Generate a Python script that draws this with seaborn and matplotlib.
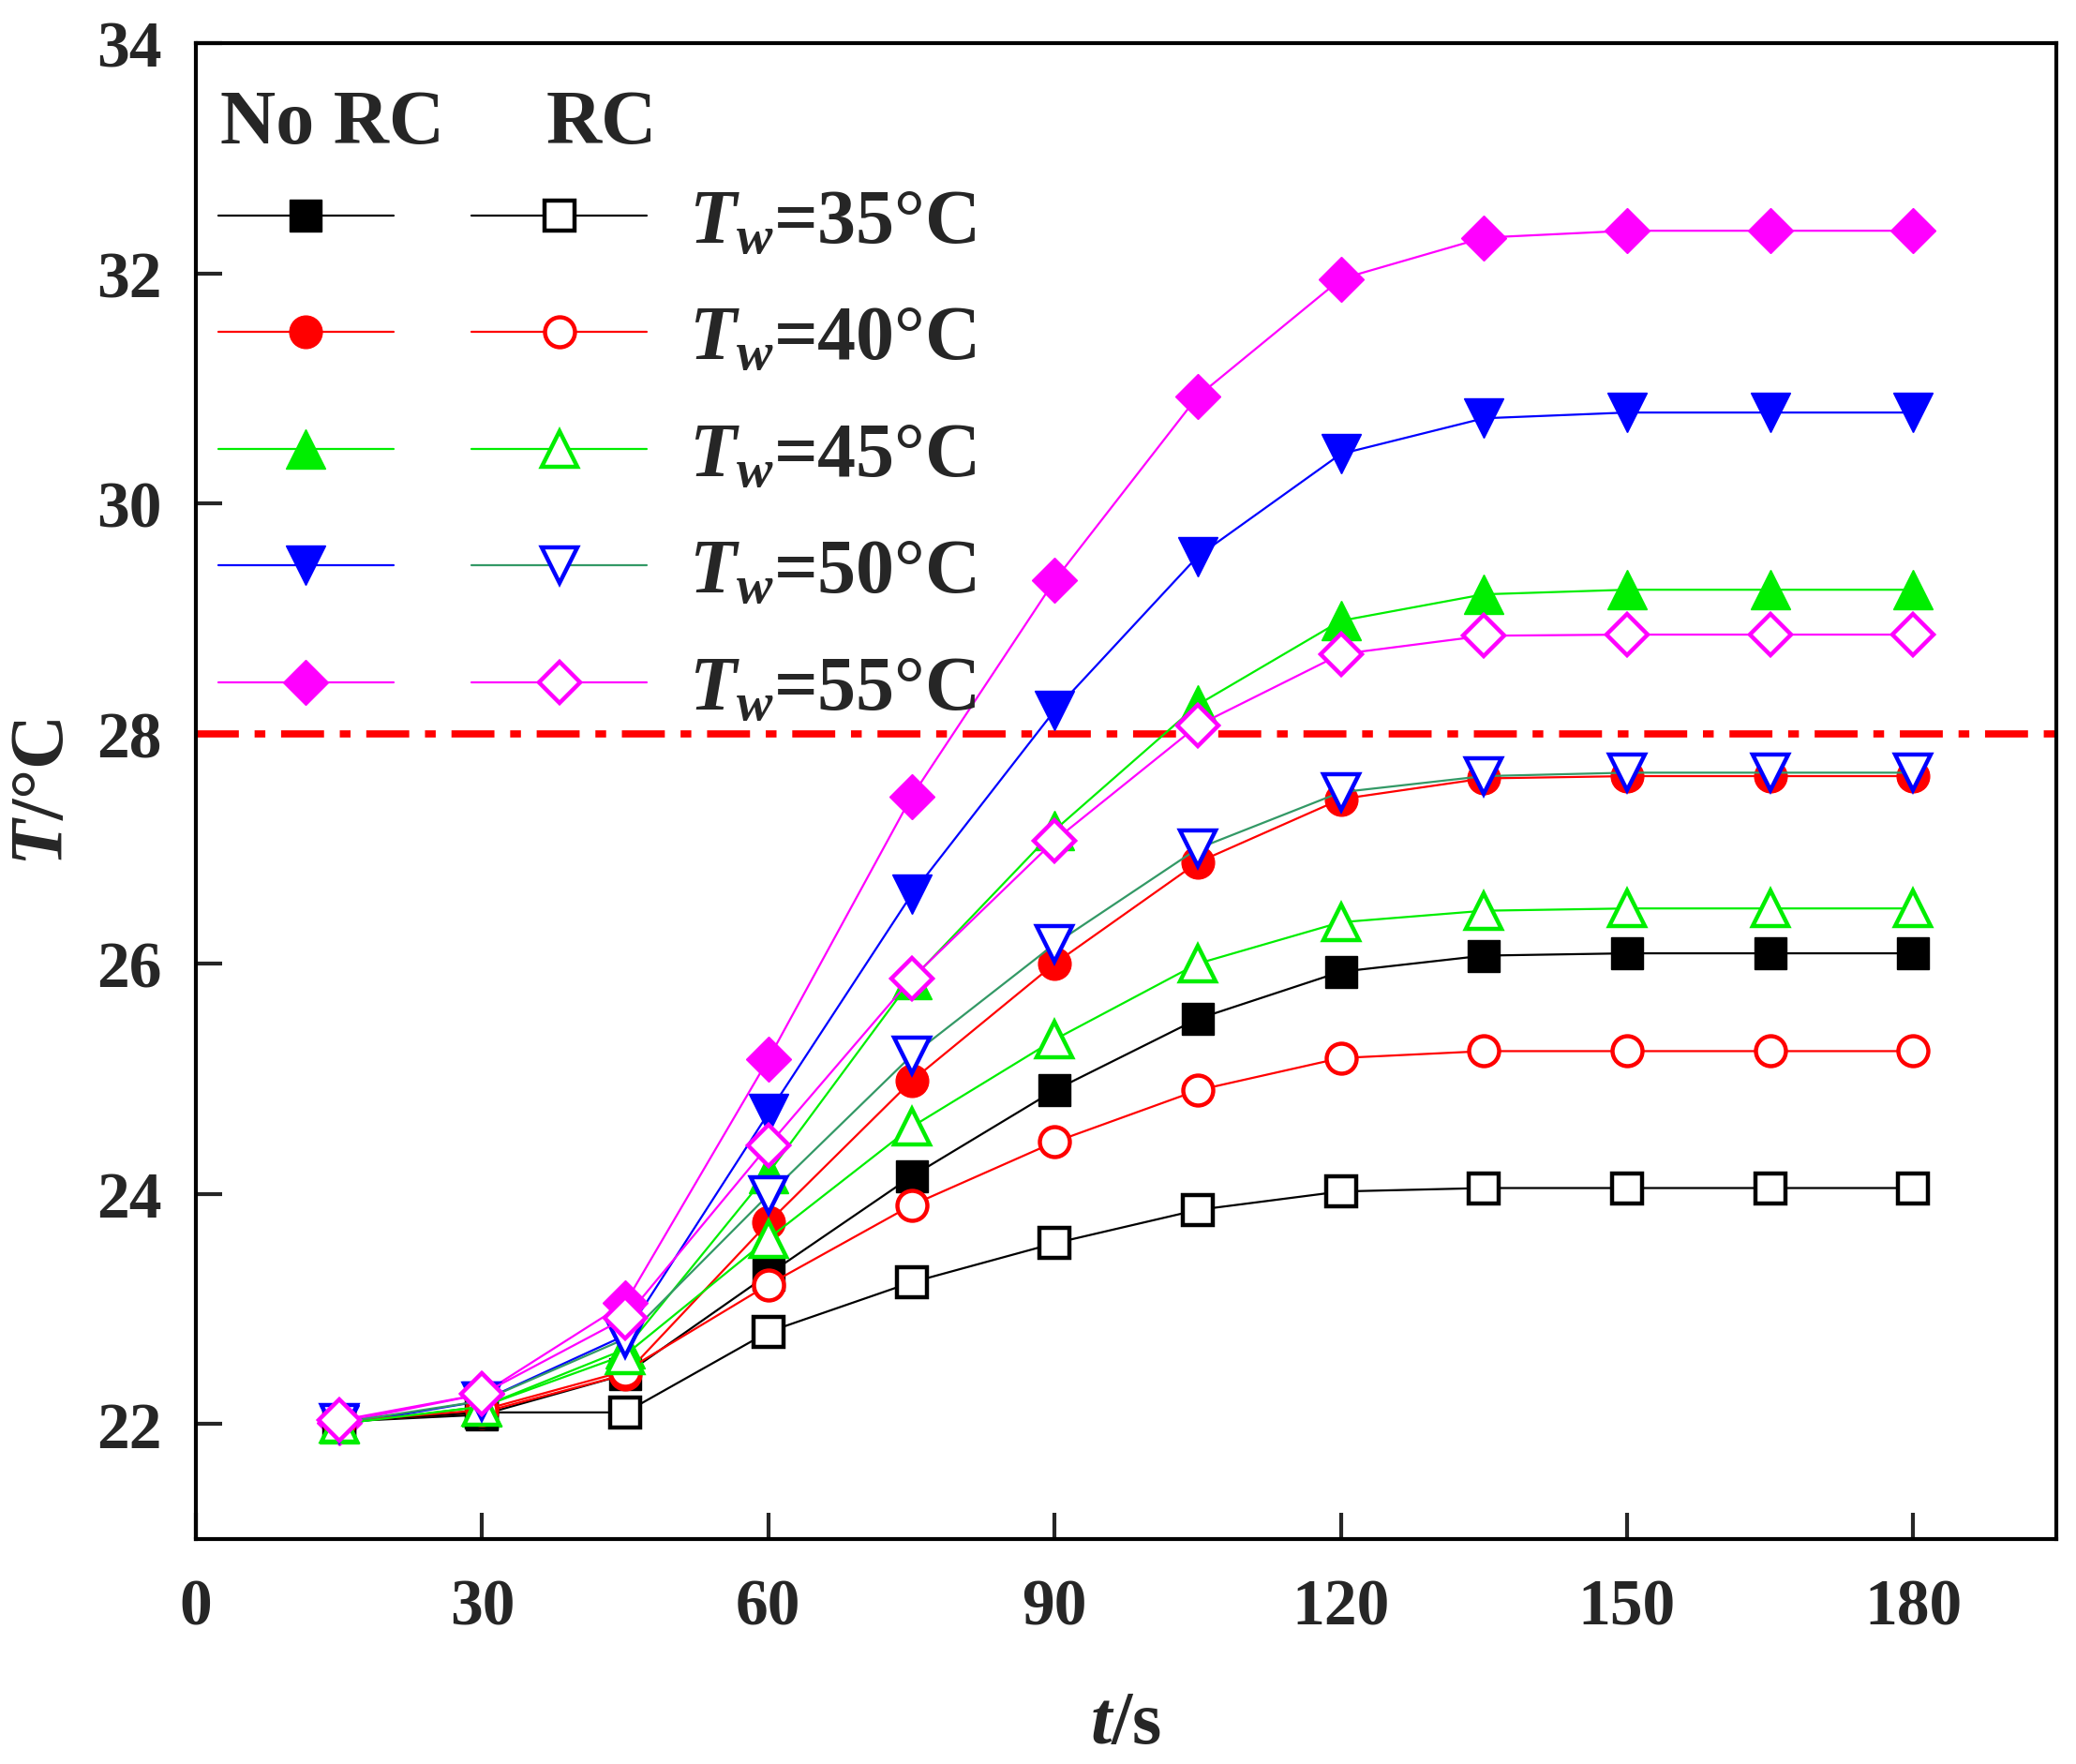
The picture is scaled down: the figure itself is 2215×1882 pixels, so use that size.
import numpy as np
import pandas as pd
import matplotlib
matplotlib.use("Agg")
import matplotlib.pyplot as plt
import seaborn as sns

# Data (t in s, T in degC)
t = [15, 30, 45, 60, 75, 90, 105, 120, 135, 150, 165, 180]

no_rc_35 = [22.02, 22.08, 22.43, 23.30, 24.15, 24.90, 25.52, 25.93, 26.07, 26.09, 26.09, 26.09]
no_rc_40 = [22.02, 22.10, 22.43, 23.75, 24.98, 26.00, 26.88, 27.43, 27.61, 27.63, 27.63, 27.63]
no_rc_45 = [22.00, 22.15, 22.65, 24.18, 25.86, 27.16, 28.25, 28.98, 29.21, 29.25, 29.25, 29.25]
no_rc_50 = [21.99, 22.20, 22.77, 24.70, 26.60, 28.20, 29.54, 30.43, 30.74, 30.79, 30.79, 30.79]
no_rc_55 = [22.01, 22.26, 23.05, 25.17, 27.45, 29.33, 30.93, 31.95, 32.31, 32.37, 32.37, 32.37]

rc_35 = [22.02, 22.10, 22.10, 22.80, 23.23, 23.57, 23.86, 24.02, 24.05, 24.05, 24.05, 24.05]
rc_40 = [22.02, 22.12, 22.46, 23.21, 23.90, 24.45, 24.90, 25.18, 25.24, 25.24, 25.24, 25.24]
rc_45 = [22.00, 22.15, 22.60, 23.61, 24.58, 25.34, 26.00, 26.36, 26.46, 26.48, 26.48, 26.48]
rc_50 = [22.01, 22.20, 22.74, 23.99, 25.20, 26.17, 27.00, 27.49, 27.63, 27.66, 27.66, 27.66]
rc_55 = [22.03, 22.26, 22.92, 24.42, 25.87, 27.07, 28.07, 28.69, 28.85, 28.86, 28.86, 28.86]

tw_labels = ["35", "40", "45", "50", "55"]
line_colors = ["#000000", "#ff0000", "#00ee00", "#0000ff", "#ff00ff"]
rc_line_colors = ["#000000", "#ff0000", "#00ee00", "#339966", "#ff00ff"]
marker_colors = ["#000000", "#ff0000", "#00ee00", "#0000ff", "#ff00ff"]
filled_markers = ["s", "o", "^", "v", "D"]
open_markers = ["s", "o", "^", "v", "D"]
marker_sizes = [25, 25, 30, 30, 24]
limit_T = 28

no_rc = [no_rc_35, no_rc_40, no_rc_45, no_rc_50, no_rc_55]
rc = [rc_35, rc_40, rc_45, rc_50, rc_55]

sns.set_style("ticks")
plt.rcParams["font.family"] = ["Liberation Serif", "DejaVu Serif"]
plt.rcParams["font.weight"] = "bold"
plt.rcParams["axes.labelweight"] = "bold"
plt.rcParams["mathtext.fontset"] = "custom"
plt.rcParams["mathtext.it"] = "Liberation Serif:italic:bold"
plt.rcParams["mathtext.rm"] = "Liberation Serif:bold"
plt.rcParams["mathtext.bf"] = "Liberation Serif:bold"

fig = plt.figure(figsize=(22.15, 18.83), dpi=100)
ax = fig.add_axes([0.0944, 0.1275, 0.8961, 0.8475])

handles_no = []
handles_rc = []
# No RC series first, RC drawn on top
for i in range(5):
    df = pd.DataFrame({"t": t, "T": no_rc[i]})
    sns.lineplot(data=df, x="t", y="T", ax=ax, color=line_colors[i], lw=1.6,
                 marker=filled_markers[i], markersize=marker_sizes[i],
                 markerfacecolor=marker_colors[i], markeredgecolor=marker_colors[i],
                 markeredgewidth=1, legend=False)
    handles_no.append(ax.get_lines()[-1])
for i in range(5):
    df = pd.DataFrame({"t": t, "T": rc[i]})
    sns.lineplot(data=df, x="t", y="T", ax=ax, color=rc_line_colors[i], lw=1.6,
                 marker=open_markers[i], markersize=marker_sizes[i] - 2,
                 markerfacecolor="white", markeredgecolor=marker_colors[i],
                 markeredgewidth=3.2, legend=False)
    handles_rc.append(ax.get_lines()[-1])

# comfort limit line
ax.axhline(limit_T, color="#ff0000", lw=5.5, dashes=(6, 2.2, 1.5, 2.2), zorder=1)

ax.set_xlim(0, 195)
ax.set_ylim(21, 34)
ax.set_xticks(range(0, 181, 30))
ax.set_yticks(range(22, 35, 2))
ax.tick_params(direction="in", length=20, width=3, labelsize=50, pad=26,
               top=False, right=False)
ax.tick_params(axis="x", pad=30)
for s in ax.spines.values():
    s.set_linewidth(3)
    s.set_color("black")

ax.set_xlabel(r"$t$/s", fontsize=58, fontweight="bold", labelpad=40)
ax.set_ylabel(r"$T$/°C", fontsize=58, fontweight="bold", labelpad=14)

labels = [""] * 5 + [r"$T_w$=" + s + "°C" for s in tw_labels]
leg = ax.legend(handles_no + handles_rc, labels, ncol=2, loc="upper left",
                bbox_to_anchor=(0.012, 0.903), frameon=False,
                prop={"family": "Liberation Serif", "weight": "bold", "size": 59},
                handlelength=2.28, handletextpad=0.55, columnspacing=0.47,
                labelspacing=0.6, borderpad=0, borderaxespad=0)
ax.text(0.013, 0.946, "No RC", transform=ax.transAxes, fontsize=59,
        fontweight="bold", va="center", ha="left")
ax.text(0.188, 0.946, "RC", transform=ax.transAxes, fontsize=59,
        fontweight="bold", va="center", ha="left")

fig.savefig("out.png", dpi=100)
